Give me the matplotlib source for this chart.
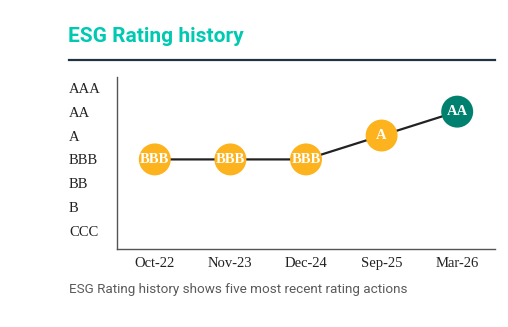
import matplotlib
matplotlib.use("Agg")
import matplotlib.pyplot as plt
from matplotlib.lines import Line2D

# rating scale (bottom to top) and history
scale = ['CCC', 'B', 'BB', 'BBB', 'A', 'AA', 'AAA']
dates = ['Oct-22', 'Nov-23', 'Dec-24', 'Sep-25', 'Mar-26']
ratings = ['BBB', 'BBB', 'BBB', 'A', 'AA']
colors = ['#fdb31e', '#fdb31e', '#fdb31e', '#fdb31e', '#00806f']

W, H = 508, 327
fig = plt.figure(figsize=(W / 100, H / 100), dpi=100)

# title and rule under it
fig.text(68 / W, 1 - 37 / H, 'ESG Rating history', family='Roboto', weight='bold',
         fontsize=15, color='#00c9b2', ha='left', va='center')
fig.add_artist(Line2D([69 / W, 495 / W], [1 - 60 / H, 1 - 60 / H], color='#1e3444', lw=1.6))

ax = fig.add_axes([117 / W, 1 - 249 / H, 378 / W, 172 / H])

x = list(range(len(dates)))
y = [scale.index(r) for r in ratings]

ax.plot(x, y, color='#222222', lw=1.6, zorder=1)
ax.scatter(x, y, s=23 ** 2, c=colors, zorder=2, linewidths=0)
for xi, yi, r in zip(x, y, ratings):
    ax.text(xi, yi, r, family='Liberation Serif', weight='bold', fontsize=10.5,
            color='white', ha='center', va='center', zorder=3)

ax.set_xlim(-0.5, 4.5)
ax.set_ylim(-0.75, 6.45)
ax.set_xticks(x)
ax.set_xticklabels(dates, family='Liberation Serif', fontsize=10.5, color='#222222')
ax.set_yticks(range(len(scale)))
ax.set_yticklabels(scale, family='Liberation Serif', fontsize=10.5, color='#222222', ha='left')
ax.tick_params(axis='y', length=0, pad=48 * 0.72)
ax.tick_params(axis='x', length=0, pad=6)

for s in ['top', 'right']:
    ax.spines[s].set_visible(False)
for s in ['left', 'bottom']:
    ax.spines[s].set_color('#555555')
    ax.spines[s].set_linewidth(1.0)

fig.text(69 / W, 1 - 289 / H, 'ESG Rating history shows five most recent rating actions',
         family='Roboto', fontsize=9.7, color='#5a5a5a', ha='left', va='center')

fig.savefig('out.png', dpi=100)
